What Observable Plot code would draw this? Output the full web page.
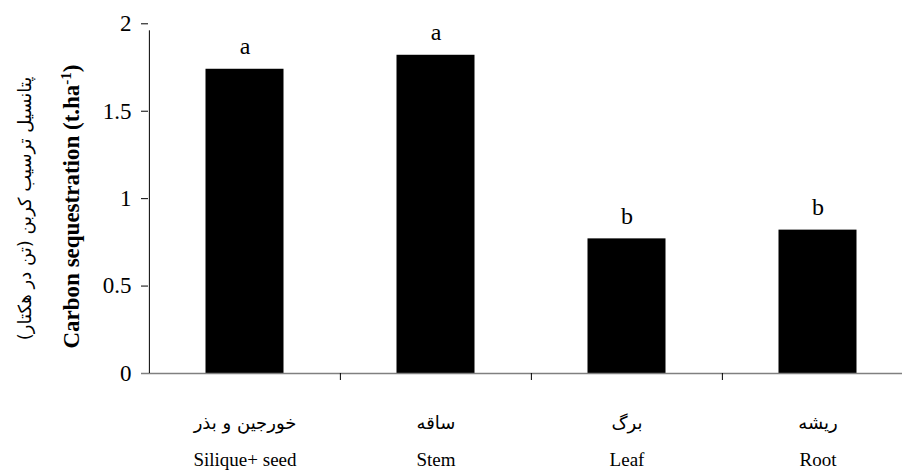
<!DOCTYPE html>
<html>
<head>
<meta charset="utf-8">
<script src="https://cdn.jsdelivr.net/npm/d3@7"></script>
<script src="https://cdn.jsdelivr.net/npm/@observablehq/plot@0.6"></script>
<style>
  html, body { margin: 0; padding: 0; background: #fff; overflow: hidden; }
  svg { display: block; }
</style>
</head>
<body>
<div id="chart"></div>
<script>
const categoriesEn = ["Silique+ seed", "Stem", "Leaf", "Root"];
const categoriesFa = ["خورجین و بذر", "ساقه", "برگ", "ریشه"];
const values = [1.74, 1.82, 0.77, 0.82];
const letters = ["a", "a", "b", "b"];
const yTicks = [0, 0.5, 1, 1.5, 2];
const yLabelEn = "Carbon sequestration (t.ha";
const yLabelFa = "پتانسیل ترسیب کربن (تن در هکتار)";

const data = categoriesEn.map((c, i) => ({cat: c, fa: categoriesFa[i], value: values[i], letter: letters[i]}));

const W = 902, H = 470;
const mL = 148, mT = 23, mB = 97;
const xRange = [148, 913];
const bw = (xRange[1] - xRange[0]) / categoriesEn.length;
const serif = "'Liberation Serif', 'Times New Roman', 'DejaVu Serif', serif";
const faFont = "'DejaVu Sans', 'Noto Sans', sans-serif";

const plot = Plot.plot({
  width: W,
  height: H,
  marginLeft: mL,
  marginRight: 0,
  marginTop: mT,
  marginBottom: mB,
  style: {fontFamily: serif, fontSize: "19px", background: "#fff", color: "#000"},
  x: {type: "band", domain: categoriesEn, range: xRange, padding: 0, axis: null},
  y: {domain: [0, 2], range: [373, 23.3], axis: null},
  marks: [
    Plot.barY(data, {x: "cat", y: "value", fill: "#000", insetLeft: 56.5, insetRight: 56.5}),
    Plot.axisY({ticks: yTicks, label: null, tickSize: 7, tickPadding: 10, tickFormat: d => String(d), fontSize: 23, fontFamily: serif, stroke: "#000", strokeOpacity: 1}),
    Plot.ruleY([0], {stroke: "#808080", strokeWidth: 1.5, insetLeft: -7}),
    Plot.ruleX([categoriesEn[0]], {x: d => d, y1: 0, y2: 2, dx: -bw / 2, stroke: "#000", insetBottom: -7}),
    Plot.ruleX(categoriesEn.slice(1), {x: d => d, y1: 0, y2: 0, dx: -bw / 2, stroke: "#000", insetBottom: -7}),
    Plot.text(data, {x: "cat", y: "value", text: "letter", dy: -23, fontSize: 24, fontFamily: serif, lineAnchor: "middle"}),
    Plot.text(data, {x: "cat", text: "fa", frameAnchor: "bottom", textAnchor: "middle", dy: 50, fontSize: 18, lineAnchor: "middle", fontFamily: faFont}),
    Plot.text(data, {x: "cat", text: "cat", frameAnchor: "bottom", textAnchor: "middle", dy: 86, fontSize: 19, fontFamily: serif, lineAnchor: "middle"}),
    Plot.text([yLabelEn], {text: d => d, frameAnchor: "left", textAnchor: "middle", rotate: -90, dx: -77, dy: 8, fontSize: 23, fontWeight: "bold", fontFamily: serif, lineAnchor: "middle"}),
    Plot.text([yLabelFa], {text: d => d, frameAnchor: "left", textAnchor: "middle", rotate: -90, dx: -123, dy: 10, fontSize: 18, lineAnchor: "middle", fontFamily: faFont})
  ]
});

// add superscript to the English y label
d3.select(plot).selectAll("text").filter(function() { return this.textContent === yLabelEn; })
  .each(function() {
    const t = d3.select(this);
    t.text(null);
    t.append("tspan").text(yLabelEn);
    t.append("tspan").attr("baseline-shift", "super").attr("font-size", "15px").text("-1");
    t.append("tspan").text(")");
  });

document.getElementById("chart").appendChild(plot);
</script>
</body>
</html>
